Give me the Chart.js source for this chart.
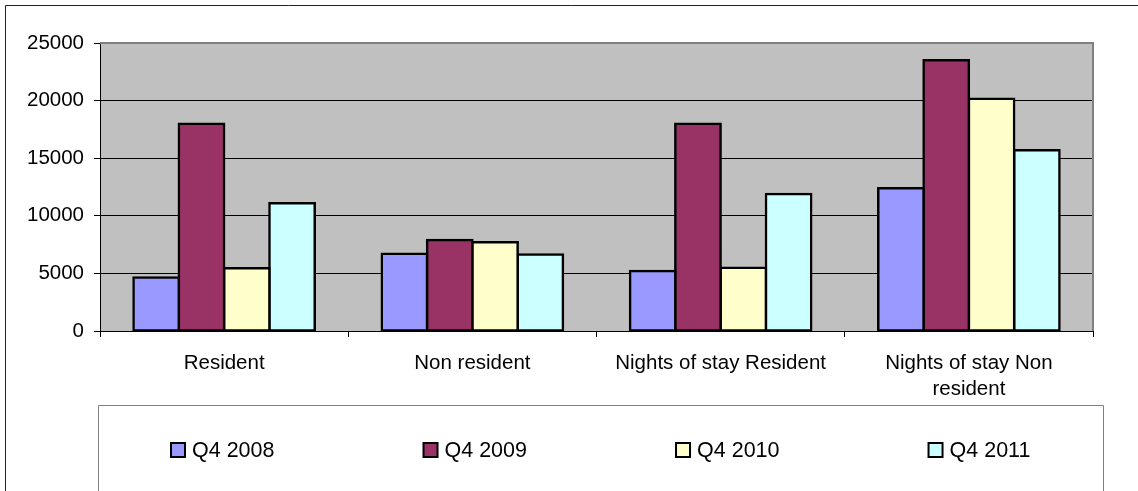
<!DOCTYPE html>
<html>
<head>
<meta charset="utf-8">
<script src="https://cdn.jsdelivr.net/npm/chart.js@4/dist/chart.umd.min.js"></script>
<style>
  html, body { margin: 0; padding: 0; background: #fff; }
  #wrap { width: 1138px; height: 491px; position: relative; }
</style>
</head>
<body>
<div id="wrap"><canvas id="c" width="1138" height="491"></canvas></div>
<script>
// categorias e séries
const categorias = ['Resident', 'Non resident', 'Nights of stay Resident', ['Nights of stay Non', 'resident']];
const series = ['Q4 2008', 'Q4 2009', 'Q4 2010', 'Q4 2011'];
const q4_2008 = [4650, 6700, 5200, 12400];
const q4_2009 = [17980, 7900, 18000, 23500];
const q4_2010 = [5450, 7700, 5500, 20150];
const q4_2011 = [11100, 6650, 11900, 15700];
const yTicks = [0, 5000, 10000, 15000, 20000, 25000];

const CORES = ['#9999ff', '#993366', '#ffffcc', '#ccffff'];
const FONT = 'Liberation Sans, Arial, sans-serif';

// fundo cinza da área de plotagem + moldura
const plotBg = {
  id: 'plotBg',
  beforeDraw(chart) {
    const { ctx, chartArea: a } = chart;
    ctx.save();
    ctx.fillStyle = '#c0c0c0';
    ctx.fillRect(a.left, a.top, a.right - a.left, a.bottom - a.top);
    ctx.restore();
  },
  afterDraw(chart) {
    const { ctx, chartArea: a } = chart;
    ctx.save();
    ctx.strokeStyle = '#808080';
    ctx.lineWidth = 2;
    ctx.beginPath();
    ctx.moveTo(a.left, a.top);
    ctx.lineTo(a.right, a.top);
    ctx.lineTo(a.right, a.bottom);
    ctx.stroke();
    // moldura externa (só topo e esquerda aparecem no recorte)
    ctx.strokeStyle = '#222';
    ctx.lineWidth = 1;
    ctx.beginPath();
    ctx.moveTo(5.5, chart.height);
    ctx.lineTo(5.5, 5.5);
    ctx.lineTo(chart.width, 5.5);
    ctx.stroke();
    ctx.restore();
  },
};

// legenda em caixa, estilo Excel
const boxLegend = {
  id: 'boxLegend',
  afterDraw(chart) {
    const { ctx, chartArea: a } = chart;
    const left = a.left - 2, top = 405.5, right = a.right + 10;
    ctx.save();
    ctx.strokeStyle = '#808080';
    ctx.lineWidth = 1;
    ctx.beginPath();
    ctx.moveTo(left + 0.5, chart.height);
    ctx.lineTo(left + 0.5, top);
    ctx.lineTo(right + 0.5, top);
    ctx.lineTo(right + 0.5, chart.height);
    ctx.stroke();
    const step = (right - left) / 3.98;
    const cy = 450;
    ctx.font = `21.5px ${FONT}`;
    ctx.textBaseline = 'middle';
    chart.data.datasets.forEach((ds, i) => {
      const x = left + 73 + i * step;
      ctx.fillStyle = ds.backgroundColor;
      ctx.fillRect(x, cy - 7, 14, 14);
      ctx.strokeStyle = '#000';
      ctx.lineWidth = 2;
      ctx.strokeRect(x, cy - 7, 14, 14);
      ctx.fillStyle = '#000';
      ctx.fillText(ds.label, x + 21, cy + 1);
    });
    ctx.restore();
  },
};

new Chart(document.getElementById('c'), {
  type: 'bar',
  data: {
    labels: categorias,
    datasets: [q4_2008, q4_2009, q4_2010, q4_2011].map((d, i) => ({
      label: series[i],
      data: d,
      backgroundColor: CORES[i],
      borderColor: '#000',
      borderWidth: 2.5,
      inflateAmount: 1.25,
      borderSkipped: false,
      barPercentage: 1,
      categoryPercentage: 0.73,
    })),
  },
  options: {
    responsive: false,
    animation: false,
    layout: { padding: { top: 43, left: 0, right: 45, bottom: 96 } },
    plugins: { legend: { display: false }, tooltip: { enabled: false } },
    scales: {
      x: {
        afterFit: (s) => { s.height = 64; },
        grid: { offset: true, drawOnChartArea: false, tickLength: 6, color: '#000', tickColor: '#000' },
        border: { color: '#000', width: 1 },
        ticks: { color: '#000', font: { family: FONT, size: 20.5, lineHeight: 1.25 }, padding: 14, maxRotation: 0, autoSkip: false },
      },
      y: {
        min: 0, max: 25000,
        afterFit: (s) => { s.width = 100; },
        afterBuildTicks: (s) => { s.ticks = yTicks.map(v => ({ value: v })); },
        grid: {
          color: (c) => c.tick && c.tick.value === 25000 ? '#808080' : '#000',
          tickColor: '#000',
          tickLength: 6,
        },
        border: { color: '#000', width: 1 },
        ticks: { color: '#000', font: { family: FONT, size: 20.5 }, padding: 10, callback: (v) => String(v) },
      },
    },
  },
  plugins: [plotBg, boxLegend],
});
</script>
</body>
</html>
